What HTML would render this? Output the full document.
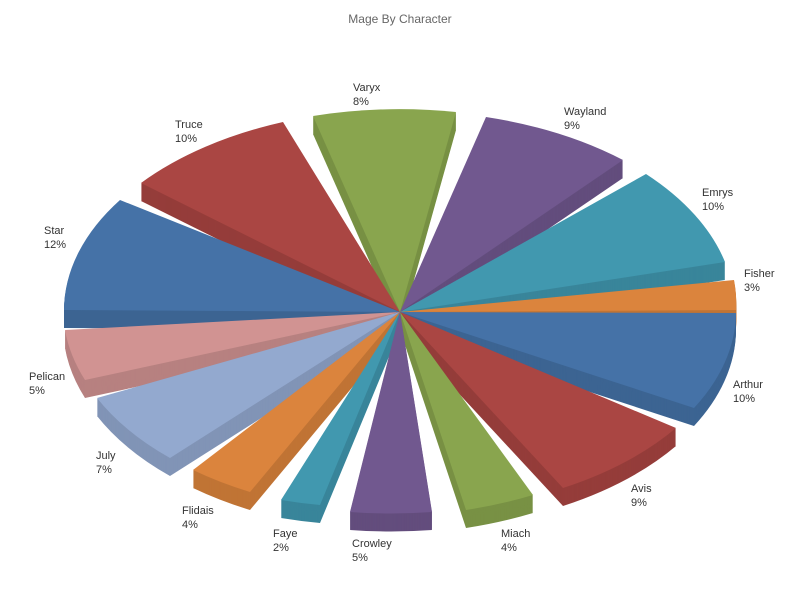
<!DOCTYPE html>
<html><head><meta charset="utf-8"><style>
body{margin:0;background:#fff}
svg text{font-family:"Liberation Sans",sans-serif}
</style></head><body>
<svg id="s" width="800" height="600" xmlns="http://www.w3.org/2000/svg">
<text x="400" y="23" text-anchor="middle" font-size="12" fill="#666">Mage By Character</text>
<g id="d"></g><g id="t"></g>
<g font-size="11" fill="#333">
<text x="733" y="388">Arthur</text><text x="733" y="402">10%</text>
<text x="631" y="492">Avis</text><text x="631" y="506">9%</text>
<text x="501" y="537">Miach</text><text x="501" y="551">4%</text>
<text x="352" y="547">Crowley</text><text x="352" y="561">5%</text>
<text x="273" y="537">Faye</text><text x="273" y="551">2%</text>
<text x="182" y="514">Flidais</text><text x="182" y="528">4%</text>
<text x="96" y="459">July</text><text x="96" y="473">7%</text>
<text x="29" y="380">Pelican</text><text x="29" y="394">5%</text>
<text x="44" y="234">Star</text><text x="44" y="248">12%</text>
<text x="175" y="128">Truce</text><text x="175" y="142">10%</text>
<text x="353" y="91">Varyx</text><text x="353" y="105">8%</text>
<text x="564" y="115">Wayland</text><text x="564" y="129">9%</text>
<text x="702" y="196">Emrys</text><text x="702" y="210">10%</text>
<text x="744" y="277">Fisher</text><text x="744" y="291">3%</text>
</g>
</svg>
<script>
var cx=400,cy=312,D=18;
var S=[
["#4572A7",736,313,694,408],
["#AA4643",676,428,563,488],
["#89A54E",533,495,466,510],
["#71588F",432,512,350,512],
["#4198AF",320,505,281,500],
["#DB843D",250,492,193,470],
["#93A9CF",170,458,97,398],
["#D19392",85,380,65,330],
["#4572A7",64,310,120,200],
["#AA4643",141,183,283,122],
["#89A54E",313,116,456,112],
["#71588F",486,117,623,160],
["#4198AF",646,174,725,262],
["#DB843D",734,280,736,310]];
function dk(c,f){var n=parseInt(c.slice(1),16);var r=(n>>16)*f|0,g=((n>>8)&255)*f|0,b=(n&255)*f|0;return "rgb("+r+","+g+","+b+")";}
function path(s,o){return "M"+cx+","+(cy+o)+"L"+s[1]+","+(s[2]+o)+"A336,200 0 0 1 "+s[3]+","+(s[4]+o)+"Z";}
var d="",t="";
for(var o=D;o>0;o-=1){S.forEach(function(s){d+='<path d="'+path(s,o)+'" fill="'+dk(s[0],0.88)+'"/>';});}
S.forEach(function(s){t+='<path d="'+path(s,0)+'" fill="'+s[0]+'"/>';});
document.getElementById("d").innerHTML=d;
document.getElementById("t").innerHTML=t;
</script>
</body></html>
